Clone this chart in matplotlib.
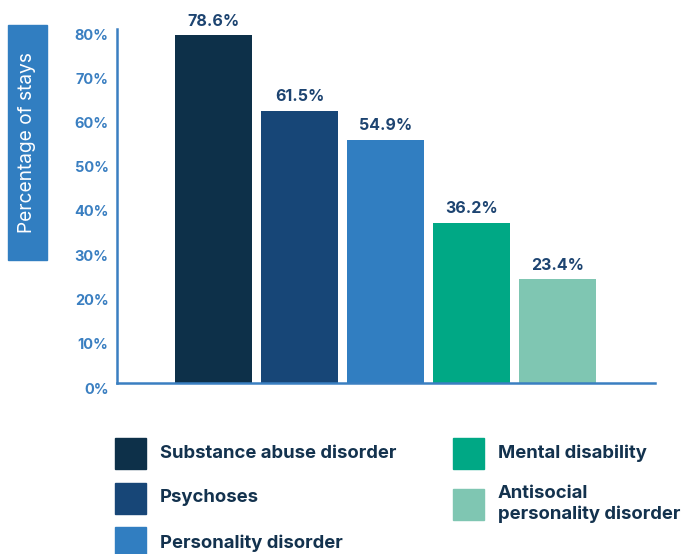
import matplotlib.pyplot as plt
import matplotlib.transforms as mtransforms
from matplotlib.patches import Rectangle

categories = ['Substance abuse disorder', 'Psychoses', 'Personality disorder',
              'Mental disability', 'Antisocial\npersonality disorder']
values = [78.6, 61.5, 54.9, 36.2, 23.4]
colors = ['#0d3049', '#174677', '#317ec1', '#00a885', '#7fc6b2']
yticks = [0, 10, 20, 30, 40, 50, 60, 70, 80]

navy = '#13324e'
label_navy = '#1d4471'
axis_blue = '#3a7fc1'
plt.rcParams['font.family'] = ['Inter', 'DejaVu Sans']

fig = plt.figure(figsize=(6.85, 5.54), dpi=100)
ax = fig.add_axes([117 / 685, 1 - 383 / 554, (655 - 117) / 685, (383 - 29) / 554])

xs = list(range(len(values)))
ax.bar(xs, values, width=0.9, color=colors)
for x, v in zip(xs, values):
    ax.text(x, v + 1.5, f'{v:.1f}%', ha='center', va='bottom',
            fontsize=11.5, fontweight='bold', color=label_navy)

ax.set_xlim(-1.12, 5.13)
ax.set_ylim(0, 80)
ax.set_xticks([])
ax.set_yticks(yticks)
ax.set_yticklabels([f'{t}%' for t in yticks], fontsize=10.5, fontweight='bold', color=axis_blue)
ax.tick_params(axis='y', length=0, pad=6)
offset = mtransforms.ScaledTranslation(0, -5 / 100, fig.dpi_scale_trans)
for lbl in ax.get_yticklabels():
    lbl.set_transform(lbl.get_transform() + offset)

for s in ['top', 'right']:
    ax.spines[s].set_visible(False)
for s in ['left', 'bottom']:
    ax.spines[s].set_color(axis_blue)
    ax.spines[s].set_linewidth(1.8)

# y label box
fig.patches.append(Rectangle((8 / 685, 1 - 260 / 554), 39 / 685, 235 / 554,
                             transform=fig.transFigure, color='#317ec1'))
fig.text(27.5 / 685, 1 - 143 / 554, 'Percentage of stays', rotation=90,
         ha='center', va='center', fontsize=13.8, color='white')

# legend
legend_pos = [(115, 453), (115, 498), (115, 543), (453, 453), (453, 504)]
sq = 31
for (px, py), c, name in zip(legend_pos, colors, categories):
    fig.patches.append(Rectangle((px / 685, 1 - (py + sq / 2) / 554), sq / 685, sq / 554,
                                 transform=fig.transFigure, color=c))
    fig.text((px + 45) / 685, 1 - py / 554, name, ha='left', va='center',
             fontsize=13.3, fontweight='bold', color=navy, linespacing=1.25)

fig.savefig('out.png', dpi=100)
